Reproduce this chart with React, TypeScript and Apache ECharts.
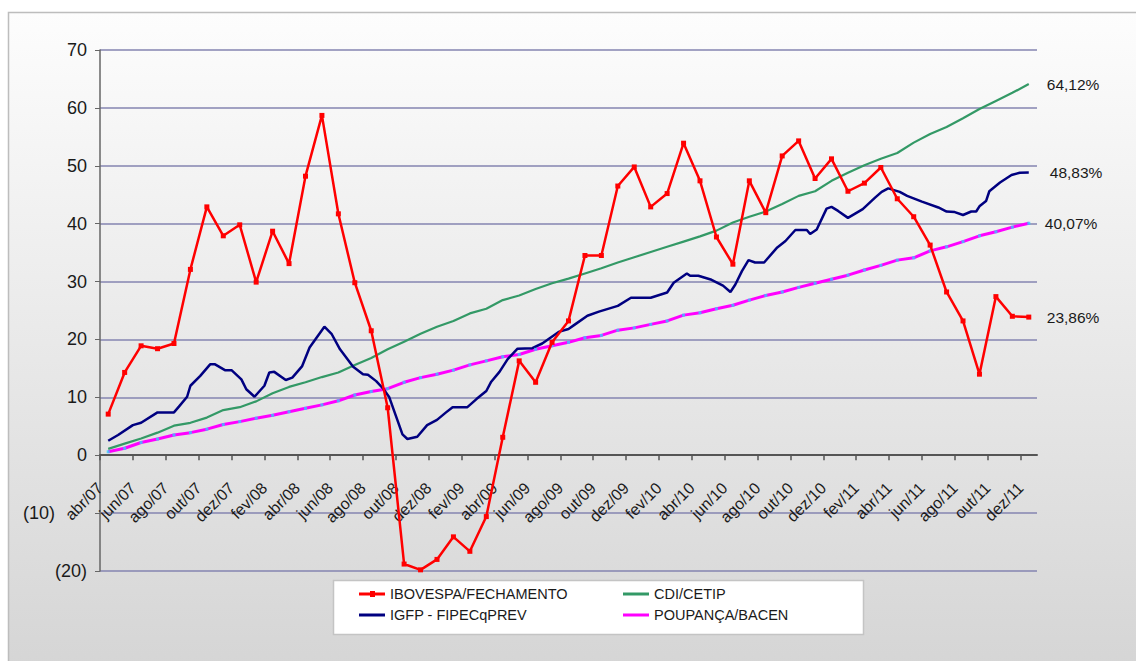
import React, { useEffect, useRef } from "react";
import * as echarts from "echarts";

const months = [
  "abr/07", "mai/07", "jun/07", "jul/07", "ago/07", "set/07", "out/07", "nov/07", "dez/07",
  "jan/08", "fev/08", "mar/08", "abr/08", "mai/08", "jun/08", "jul/08", "ago/08", "set/08", "out/08", "nov/08", "dez/08",
  "jan/09", "fev/09", "mar/09", "abr/09", "mai/09", "jun/09", "jul/09", "ago/09", "set/09", "out/09", "nov/09", "dez/09",
  "jan/10", "fev/10", "mar/10", "abr/10", "mai/10", "jun/10", "jul/10", "ago/10", "set/10", "out/10", "nov/10", "dez/10",
  "jan/11", "fev/11", "mar/11", "abr/11", "mai/11", "jun/11", "jul/11", "ago/11", "set/11", "out/11", "nov/11", "dez/11",
];

const ibovespa = [
  7.1, 14.3, 18.9, 18.4, 19.3, 32.1, 42.9, 37.9, 39.8, 29.9, 38.7, 33.1, 48.2, 58.7, 41.7, 29.8, 21.5, 8.2,
  -18.8, -19.8, -18.0, -14.1, -16.6, -10.6, 3.1, 16.3, 12.6, 19.5, 23.2, 34.5, 34.5, 46.5, 49.8, 42.9, 45.2,
  53.9, 47.4, 37.7, 33.0, 47.4, 41.9, 51.7, 54.3, 47.8, 51.2, 45.6, 47.0, 49.7, 44.3, 41.2, 36.3, 28.2, 23.2,
  14.0, 27.4, 24.0, 23.86,
];

const cdi = [
  1.1, 2.0, 2.9, 3.9, 5.1, 5.6, 6.5, 7.8, 8.3, 9.3, 10.7, 11.8, 12.6, 13.5, 14.3, 15.6, 16.8, 18.3, 19.6, 21.0,
  22.2, 23.2, 24.5, 25.3, 26.8, 27.6, 28.7, 29.7, 30.5, 31.4, 32.3, 33.3, 34.2, 35.1, 36.0, 36.9, 37.8, 38.8,
  40.2, 41.2, 42.1, 43.4, 44.8, 45.6, 47.4, 48.8, 50.1, 51.2, 52.2, 54.0, 55.5, 56.7, 58.2, 59.8, 61.2, 62.6, 64.12,
];

const poupanca = [
  0.6, 1.2, 2.2, 2.8, 3.5, 3.9, 4.5, 5.3, 5.8, 6.4, 6.9, 7.5, 8.1, 8.7, 9.4, 10.4, 11.0, 11.5, 12.6, 13.4, 14.0,
  14.7, 15.6, 16.3, 17.0, 17.4, 18.3, 18.9, 19.5, 20.3, 20.7, 21.6, 22.0, 22.6, 23.2, 24.2, 24.6, 25.3, 25.9,
  26.8, 27.6, 28.2, 29.0, 29.7, 30.4, 31.1, 32.0, 32.8, 33.7, 34.1, 35.3, 36.0, 36.9, 37.9, 38.6, 39.4, 40.07,
];

// IGFP: [month position, value] (denser than monthly)
const igfp = [
  [0.5, 2.5], [1.1, 3.5], [2.0, 5.2], [2.5, 5.6], [3.5, 7.4], [4.5, 7.4], [4.8, 8.4], [5.3, 10.1], [5.5, 12.0],
  [6.1, 13.7], [6.7, 15.7], [7.0, 15.7], [7.6, 14.7], [8.0, 14.7], [8.6, 13.1], [8.9, 11.4], [9.4, 10.1],
  [10.0, 12.0], [10.3, 14.3], [10.6, 14.4], [11.3, 13.0], [11.7, 13.4], [12.3, 15.4], [12.75, 18.6], [13.65, 22.2],
  [14.1, 20.9], [14.6, 18.3], [15.4, 15.3], [16.0, 14.0], [16.3, 13.9], [16.8, 12.8], [17.2, 11.6], [17.6, 10.0],
  [18.0, 6.8], [18.4, 3.6], [18.7, 2.8], [19.3, 3.2], [19.9, 5.2], [20.5, 6.1], [21.05, 7.4], [21.45, 8.3],
  [22.35, 8.3], [22.9, 9.7], [23.5, 11.1], [23.8, 12.7], [24.3, 14.4], [24.8, 16.6], [25.4, 18.4], [26.3, 18.5],
  [26.9, 19.3], [27.4, 20.3], [27.9, 21.3], [28.5, 21.8], [28.9, 22.6], [29.65, 24.1], [30.35, 24.8], [31.5, 25.8],
  [32.3, 27.2], [33.5, 27.2], [34.5, 28.1], [34.9, 29.8], [35.7, 31.4], [35.9, 31.0], [36.4, 31.0], [37.2, 30.3],
  [37.9, 29.3], [38.35, 28.2], [38.65, 29.5], [39.05, 31.8], [39.45, 33.7], [39.85, 33.3], [40.4, 33.3], [41.2, 35.9],
  [41.7, 37.0], [42.3, 38.9], [43.0, 38.9], [43.2, 38.2], [43.6, 39.0], [44.2, 42.6], [44.5, 42.9], [44.9, 42.2],
  [45.5, 41.0], [46.4, 42.5], [47.15, 44.5], [47.55, 45.5], [47.95, 46.1], [48.65, 45.5], [49.1, 44.8], [50.0, 43.8],
  [51.0, 42.8], [51.5, 42.1], [52.0, 42.0], [52.5, 41.5], [53.0, 42.1], [53.3, 42.1], [53.5, 43.0], [53.9, 43.9],
  [54.1, 45.6], [54.75, 47.1], [55.45, 48.4], [55.95, 48.8], [56.5, 48.83],
];

const endLabels = {
  ibovespa: "23,86%",
  cdi: "64,12%",
  igfp: "48,83%",
  poupanca: "40,07%",
};

const names = {
  ibovespa: "IBOVESPA/FECHAMENTO",
  cdi: "CDI/CETIP",
  igfp: "IGFP - FIPECqPREV",
  poupanca: "POUPANÇA/BACEN",
};

const FONT = '"Liberation Sans", Arial, sans-serif';
const OFFSET = 0.5;
const LINE_ICON = "path://M0,0 H26 V3 H0 Z";
const MARKER_ICON = "path://M0,1.5 H11 V0 H16 V1.5 H26 V4.5 H16 V6 H11 V4.5 H0 Z";

export default function App() {
  const ref = useRef<HTMLDivElement>(null);

  useEffect(() => {
    if (!ref.current) return;
    const chart = echarts.init(ref.current, undefined, { renderer: "svg" });
    const toPairs = (vals: number[]) => vals.map((v, i) => [i + OFFSET, v]);
    const tickValues = months.map((_, i) => i).filter((i) => i % 2 === 0);
    const endLabel = (text: string, distance: number) => ({
      show: true,
      formatter: () => text,
      distance,
      fontSize: 15.5,
      fontFamily: FONT,
      color: "#1a1a1a",
    });
    const gridTop = 50;
    const gridHeight = 521;
    const yMin = -20;
    const yMax = 70;
    const zeroFromBottom = (gridHeight * (0 - yMin)) / (yMax - yMin);
    const legendText = { fontSize: 14.5, lineHeight: 16, color: "#1a1a1a", fontFamily: FONT };

    chart.setOption({
      animation: false,
      backgroundColor: "#ffffff",
      textStyle: { fontFamily: FONT },
      grid: { left: 100, top: gridTop, width: 937, height: gridHeight, containLabel: false },
      graphic: [
        {
          type: "rect",
          z: -10,
          silent: true,
          shape: { x: 8.5, y: 12.5, width: 1140, height: 660 },
          style: {
            fill: new echarts.graphic.LinearGradient(0, 0, 0, 1, [
              { offset: 0, color: "#fdfdfd" },
              { offset: 1, color: "#d5d5d5" },
            ]),
            stroke: "#bdbdbd",
            lineWidth: 1.5,
          },
        },
        {
          type: "rect",
          z: 4,
          silent: true,
          shape: { x: 333.5, y: 580.5, width: 530, height: 54 },
          style: { fill: "#ffffff", stroke: "#c4c4c4", lineWidth: 1.5 },
        },
      ],
      legend: [
        {
          z: 5,
          left: 354,
          top: 581,
          orient: "vertical",
          itemGap: 5,
          itemWidth: 26,
          itemHeight: 8,
          data: [
            { name: names.ibovespa, icon: MARKER_ICON },
            { name: names.igfp, icon: LINE_ICON },
          ],
          textStyle: legendText,
        },
        {
          z: 5,
          left: 618,
          top: 581,
          orient: "vertical",
          itemGap: 5,
          itemWidth: 26,
          itemHeight: 8,
          data: [
            { name: names.cdi, icon: LINE_ICON },
            { name: names.poupanca, icon: LINE_ICON, itemStyle: { color: "#ff00ff" } },
          ],
          textStyle: legendText,
        },
      ],
      xAxis: {
        type: "value",
        min: 0,
        max: 57,
        offset: -zeroFromBottom,
        axisLine: { onZero: false, lineStyle: { color: "#555555", width: 2 } },
        axisTick: { show: true, customValues: tickValues, length: 5, lineStyle: { color: "#555555", width: 1.5 } },
        axisLabel: {
          customValues: tickValues,
          formatter: (v: number) => months[Math.round(v)] ?? "",
          rotate: 45,
          margin: 30,
          fontSize: 16,
          color: "#1a1a1a",
          fontFamily: FONT,
        },
        splitLine: { show: false },
      },
      yAxis: {
        type: "value",
        min: yMin,
        max: yMax,
        interval: 10,
        axisLine: { show: true, onZero: false, lineStyle: { color: "#666666", width: 1.5 } },
        axisTick: { show: true, length: 5, lineStyle: { color: "#666666" } },
        axisLabel: {
          formatter: (v: number) => (v === -10 ? `{shift|(10)}` : v < 0 ? `(${-v})` : `${v}`),
          rich: { shift: { fontSize: 18, padding: [0, 32, 0, 0], color: "#1a1a1a", fontFamily: FONT } },
          fontSize: 18,
          margin: 13,
          color: "#1a1a1a",
          fontFamily: FONT,
        },
        splitLine: { lineStyle: { color: "#8585b0", width: 1.5 } },
      },
      series: [
        {
          name: names.ibovespa,
          type: "line",
          z: 6,
          data: toPairs(ibovespa),
          symbol: "rect",
          symbolSize: 5,
          itemStyle: { color: "#ff0000" },
          lineStyle: { color: "#ff0000", width: 2.5 },
          endLabel: endLabel(endLabels.ibovespa, 18),
        },
        {
          name: names.cdi,
          type: "line",
          z: 3,
          data: toPairs(cdi),
          symbol: "none",
          itemStyle: { color: "#339966" },
          lineStyle: { color: "#339966", width: 2.2 },
          endLabel: endLabel(endLabels.cdi, 18),
        },
        {
          name: names.igfp,
          type: "line",
          z: 4,
          data: igfp,
          symbol: "none",
          itemStyle: { color: "#000080" },
          lineStyle: { color: "#000080", width: 2.5 },
          endLabel: endLabel(endLabels.igfp, 21),
        },
        {
          name: names.poupanca,
          type: "line",
          z: 3,
          data: toPairs(poupanca),
          symbol: "none",
          itemStyle: { color: "#ff00ff" },
          lineStyle: { color: "#ff00ff", width: 3 },
          endLabel: endLabel(endLabels.poupanca, 16),
        },
        {
          name: "poupanca-markers",
          type: "scatter",
          z: 5,
          silent: true,
          data: toPairs(poupanca),
          symbol: "rect",
          symbolSize: 3,
          itemStyle: { color: "#33ccff" },
        },
      ],
    });

    return () => chart.dispose();
  }, []);

  return (
    <div
      ref={ref}
      style={{ position: "absolute", left: 0, top: 0, width: 1136, height: 661 }}
    />
  );
}
